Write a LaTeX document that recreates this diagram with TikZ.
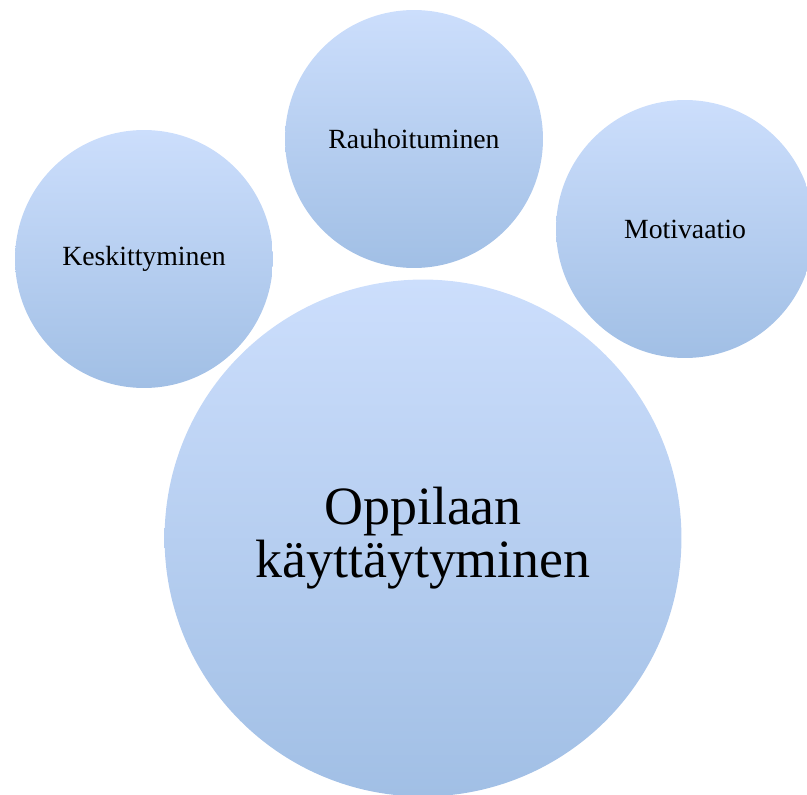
\documentclass[tikz,border=0pt]{standalone}
\usepackage{fontspec}
\setmainfont{Liberation Serif}
\usepackage{tikz}
\usetikzlibrary{positioning}

\definecolor{bubtop}{HTML}{CCDEFC}
\definecolor{bubbot}{HTML}{A1BFE5}

\begin{document}
\begin{tikzpicture}[
  x=0.02cm, y=-0.02cm,
  bub/.style={circle, inner sep=0pt, minimum size=5.16cm, align=center,
              top color=bubtop, bottom color=bubbot, draw=none,
              font=\fontsize{15.8}{18}\selectfont},
  bigbub/.style={bub, minimum size=10.34cm,
                 font=\fontsize{30.7}{30}\selectfont},
]
\useasboundingbox (0,0) rectangle (807,794);
% Bubbles
\node[bigbub] (OK) at (423,538) {Oppilaan\\käyttäytyminen};
\node[bub] (KE) at (144,259) {Keskittyminen};
\node[bub] (RA) at (414,139) {Rauhoituminen};
\node[bub] (MO) at (685,229) {Motivaatio};
\end{tikzpicture}
\end{document}
